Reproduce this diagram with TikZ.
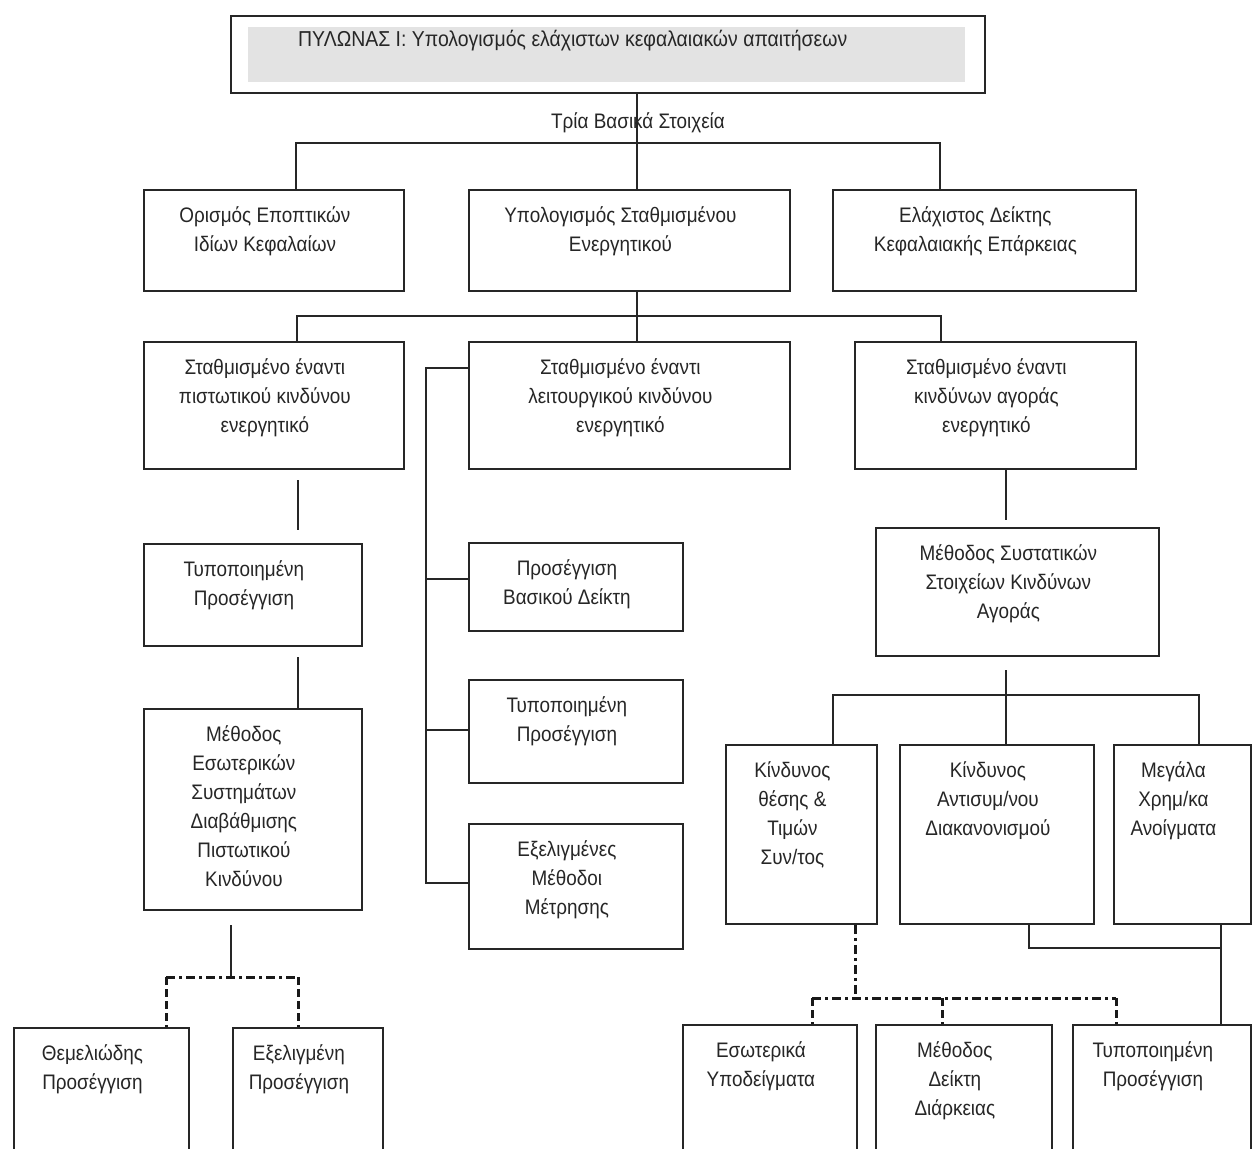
\documentclass[tikz,border=0pt]{standalone}
\usepackage{fontspec}
\setmainfont{Liberation Sans}[FakeStretch=0.9]
\begin{document}
\begin{tikzpicture}[x=1pt,y=-1pt,
  box/.style={draw=black!85, line width=1.8pt, rectangle, inner sep=0pt},
  txt/.style={inner sep=0pt, align=center, text=black!85,
    font=\fontsize{21}{29}\selectfont, execute at begin node=\strut},
  conn/.style={draw=black!85, line width=1.8pt},
  dashdot/.style={draw=black!90, line width=3pt, dash pattern=on 9pt off 4pt on 3pt off 4pt},
  dashd/.style={draw=black!90, line width=3pt, dash pattern=on 8pt off 4pt}]
\newcommand{\mybox}[6]{%
  \node[box, anchor=north west, minimum width={#4-#2}, minimum height={#5-#3}] (#1) at (#2,#3) {};
  \node[txt, anchor=north] (#1t) at ([xshift=-9pt, yshift=-17pt]#1.north) {#6};}
\useasboundingbox (0,0) rectangle (1257,1148);
\fill[white] (0,0) rectangle (1257,1148);
\clip (0,0) rectangle (1257,1148);

% title
\node[box, anchor=north west, minimum width=754, minimum height=77] (T) at (230,15) {};
\node[fill=gray!22, inner sep=0pt, anchor=north west, minimum width=717, minimum height=55] (Tg) at (248,27) {};
\node[inner sep=0pt, anchor=base west, text=black!85, font=\fontsize{21.6}{26}\selectfont] (Tt) at (298,47)
  {ΠΥΛΩΝΑΣ Ι: Υπολογισμός ελάχιστων κεφαλαιακών απαιτήσεων};

% level 1
\mybox{A}{143}{189}{403}{290}{Ορισμός Εποπτικών\\Ιδίων Κεφαλαίων}
\mybox{B}{468}{189}{789}{290}{Υπολογισμός Σταθμισμένου\\Ενεργητικού}
\mybox{C}{832}{189}{1135}{290}{Ελάχιστος Δείκτης\\Κεφαλαιακής Επάρκειας}

% level 2
\mybox{D}{143}{341}{403}{468}{Σταθμισμένο έναντι\\πιστωτικού κινδύνου\\ενεργητικό}
\mybox{E}{468}{341}{789}{468}{Σταθμισμένο έναντι\\λειτουργικού κινδύνου\\ενεργητικό}
\mybox{F}{854}{341}{1135}{468}{Σταθμισμένο έναντι\\κινδύνων αγοράς\\ενεργητικό}

% left column
\mybox{P}{143}{543}{361}{645}{Τυποποιημένη\\Προσέγγιση}
\mybox{Q}{143}{708}{361}{909}{Μέθοδος\\Εσωτερικών\\Συστημάτων\\Διαβάθμισης\\Πιστωτικού\\Κινδύνου}

% bus column
\mybox{S1}{468}{542}{682}{630}{Προσέγγιση\\Βασικού Δείκτη}
\mybox{S2}{468}{679}{682}{782}{Τυποποιημένη\\Προσέγγιση}
\mybox{S3}{468}{823}{682}{948}{Εξελιγμένες\\Μέθοδοι\\Μέτρησης}

% right column
\mybox{G}{875}{527}{1158}{655}{Μέθοδος Συστατικών\\Στοιχείων Κινδύνων\\Αγοράς}
\mybox{H}{725}{744}{876}{923}{Κίνδυνος\\θέσης \&\\Τιμών\\Συν/τος}
\mybox{I}{899}{744}{1093}{923}{Κίνδυνος\\Αντισυμ/νου\\Διακανονισμού}
\mybox{J}{1113}{744}{1250}{923}{Μεγάλα\\Χρημ/κα\\Ανοίγματα}

% bottom row
\mybox{N}{13}{1027}{188}{1200}{Θεμελιώδης\\Προσέγγιση}
\mybox{O}{232}{1027}{382}{1200}{Εξελιγμένη\\Προσέγγιση}
\mybox{K}{682}{1024}{856}{1200}{Εσωτερικά\\Υποδείγματα}
\mybox{L}{875}{1024}{1051}{1200}{Μέθοδος\\Δείκτη\\Διάρκειας}
\mybox{M}{1072}{1024}{1250}{1200}{Τυποποιημένη\\Προσέγγιση}

% level 1 connectors
\coordinate (j1) at (637,143);
\coordinate (h1L) at (296,143);
\coordinate (h1R) at (940,143);
\draw[conn] (T.south -| j1) -- (j1 |- B.north);
\draw[conn] (h1L |- A.north) -- (h1L) -- (h1R) -- (h1R |- C.north);
\node[inner sep=0pt, anchor=base, text=black!85, font=\fontsize{21}{26}\selectfont] (tri) at (638,128) {Τρία Βασικά Στοιχεία};

% level 2 connectors
\coordinate (j2) at (637,316);
\coordinate (h2L) at (297,316);
\coordinate (h2R) at (941,316);
\draw[conn] (j2 |- B.south) -- (j2 |- E.north);
\draw[conn] (h2L |- D.north) -- (h2L) -- (h2R) -- (h2R |- F.north);

% left column connectors
\coordinate (dp1) at (298,480);
\coordinate (dp2) at (298,530);
\draw[conn] (dp1) -- (dp2);
\coordinate (pq1) at (298,657);
\draw[conn] (pq1) -- (pq1 |- Q.north);

% bus
\coordinate (bus0) at (426,368);
\coordinate (bus1) at (426,579);
\coordinate (bus2) at (426,730);
\coordinate (bus3) at (426,883);
\draw[conn] (bus0 -| E.west) -- (bus0) -- (bus3) -- (bus3 -| S3.west);
\draw[conn] (bus1) -- (bus1 -| S1.west);
\draw[conn] (bus2) -- (bus2 -| S2.west);

% right column connectors
\coordinate (fg) at (1006,520);
\draw[conn] (fg |- F.south) -- (fg);
\coordinate (g0) at (1006,670);
\coordinate (h3L) at (833,695);
\coordinate (h3R) at (1199,695);
\draw[conn] (g0) -- (g0 |- I.north);
\draw[conn] (h3L |- H.north) -- (h3L) -- (h3R) -- (h3R |- J.north);

% Q -> N, O
\coordinate (q0) at (231,925);
\coordinate (q1) at (231,977);
\coordinate (h4L) at (166,977);
\coordinate (h4R) at (298,977);
\draw[conn] (q0) -- (q1);
\draw[dashdot] (h4L) -- (h4R);
\draw[dashd] (h4L) -- (h4L |- N.north);
\draw[dashd] (h4R) -- (h4R |- O.north);

% H -> K, L, M
\coordinate (hk) at (855,998);
\coordinate (h5L) at (812,998);
\coordinate (h5M) at (942,998);
\coordinate (h5R) at (1116,998);
\draw[dashdot] (hk |- H.south) -- (hk);
\draw[dashdot] (h5L) -- (h5R);
\draw[dashd] (h5L) -- (h5L |- K.north);
\draw[dashd] (h5M) -- (h5M |- L.north);
\draw[dashd] (h5R) -- (h5R |- M.north);

% I, J -> M
\coordinate (ij) at (1029,948);
\coordinate (jm) at (1221,948);
\draw[conn] (ij |- I.south) -- (ij) -- (jm);
\draw[conn] (jm |- J.south) -- (jm |- M.north);
\end{tikzpicture}
\end{document}
